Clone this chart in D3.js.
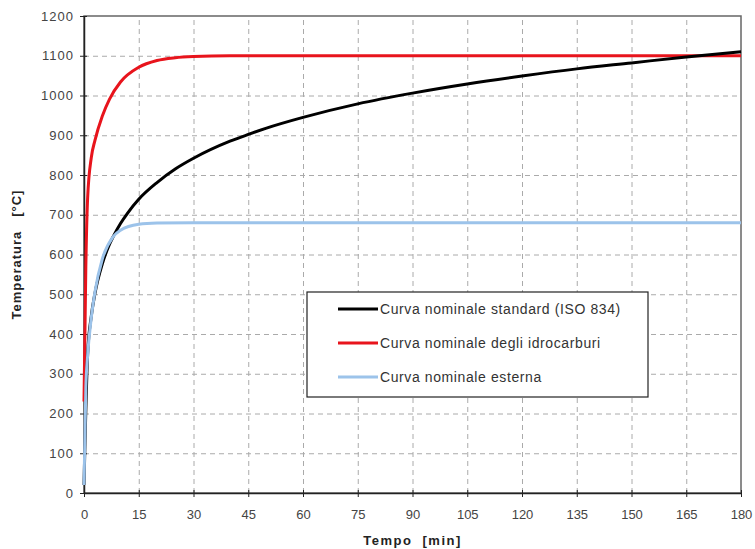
<!DOCTYPE html>
<meta charset="utf-8">
<title>Curve nominali di incendio</title>
<style>
body { margin: 0; background: white; font-family: "Liberation Sans", Arial, sans-serif; }
.tick text { font-size: 13px; fill: #444; }
.yax .tick text { letter-spacing: 1px; }
.grid line { stroke: #aaa; stroke-dasharray: 5,4; }
.grid path { display: none; }
</style>
<body>
<script src="https://d3js.org/d3.v7.min.js"></script>
<script>
// data (time in minutes, temperature in °C)
const isoTime = [0, 1, 2, 3, 5, 7, 8, 10, 12, 15, 20, 25, 30, 40, 45, 50, 60, 75, 90, 105, 120, 135, 150, 165, 180];
const isoTemp = [20, 349, 445, 502, 576, 626, 645, 678, 705, 739, 781, 815, 842, 885, 902, 918, 945, 979, 1006, 1029, 1049, 1067, 1082, 1097, 1110];

const hcTime = [0, 0.5, 1, 2, 3, 5, 7, 10, 15, 20, 25, 30, 40, 60, 90, 120, 150, 180];
const hcTemp = [230, 569, 743, 844, 887, 948, 991, 1034, 1071, 1088, 1095, 1098, 1100, 1100, 1100, 1100, 1100, 1100];

const extTime = [0, 0.5, 1, 2, 3, 5, 8, 10, 15, 20, 30, 60, 90, 120, 150, 180];
const extTemp = [20, 263, 346, 441, 506, 588, 645, 661, 676, 679, 680, 680, 680, 680, 680, 680];

const xTicks = [0, 15, 30, 45, 60, 75, 90, 105, 120, 135, 150, 165, 180];
const yTicks = [0, 100, 200, 300, 400, 500, 600, 700, 800, 900, 1000, 1100, 1200];

const seriesNames = ["Curva nominale standard (ISO 834)", "Curva nominale degli idrocarburi", "Curva nominale esterna"];
const seriesColors = ["#000000", "#e8141c", "#9cc3ea"];

const W = 755, H = 549;
const margin = {top: 16, right: 14, bottom: 56, left: 84};

const svg = d3.select("body").append("svg")
    .attr("width", W)
    .attr("height", H);

const x = d3.scaleLinear().domain([0, 180]).range([margin.left, W - margin.right]);
const y = d3.scaleLinear().domain([0, 1200]).range([H - margin.bottom, margin.top]);

// grid
svg.append("g")
    .attr("class", "grid")
    .attr("transform", "translate(0," + y(0) + ")")
    .call(d3.axisBottom(x).tickValues(xTicks.slice(1, -1)).tickSize(-(y(0) - y(1200))).tickFormat(""));
svg.append("g")
    .attr("class", "grid")
    .attr("transform", "translate(" + x(0) + ",0)")
    .call(d3.axisLeft(y).tickValues(yTicks.slice(1, -1)).tickSize(-(x(180) - x(0))).tickFormat(""));

// frame
svg.append("rect")
    .attr("x", x(0)).attr("y", y(1200))
    .attr("width", x(180) - x(0)).attr("height", y(0) - y(1200))
    .attr("fill", "none").attr("stroke", "#666").attr("stroke-width", 1.5);

// axes
const xAxis = svg.append("g")
    .attr("transform", "translate(0," + y(0) + ")")
    .call(d3.axisBottom(x).tickValues(xTicks).tickFormat(d3.format("d")).tickSizeInner(4).tickSizeOuter(0).tickPadding(13));
xAxis.selectAll(".tick line").attr("y1", -3).attr("stroke", "#222");
xAxis.select(".domain").attr("stroke", "#222").attr("stroke-width", 1.5);

const yAxis = svg.append("g")
    .attr("class", "yax")
    .attr("transform", "translate(" + x(0) + ",0)")
    .call(d3.axisLeft(y).tickValues(yTicks).tickFormat(d3.format("d")).tickSizeInner(4).tickSizeOuter(0).tickPadding(6));
yAxis.selectAll(".tick line").attr("x1", 3).attr("stroke", "#222");
yAxis.select(".domain").attr("stroke", "#222").attr("stroke-width", 1.5);

// curves
const line = d3.line()
    .x(d => x(d[0]))
    .y(d => y(d[1]))
    .curve(d3.curveMonotoneX);

const series = [
  d3.zip(isoTime, isoTemp),
  d3.zip(hcTime, hcTemp),
  d3.zip(extTime, extTemp)
];

// draw order: red, black, light blue
[1, 0, 2].forEach(i => {
  svg.append("path")
    .datum(series[i])
    .attr("fill", "none")
    .attr("stroke", seriesColors[i])
    .attr("stroke-width", 3)
    .attr("d", line);
});

// legend
const lg = svg.append("g");
lg.append("rect")
    .attr("x", 307).attr("y", 292)
    .attr("width", 341).attr("height", 105)
    .attr("fill", "white").attr("stroke", "#222").attr("stroke-width", 1.2);
seriesNames.forEach((name, i) => {
  const yy = 309 + i * 34;
  lg.append("line")
    .attr("x1", 338).attr("x2", 378)
    .attr("y1", yy).attr("y2", yy)
    .attr("stroke", seriesColors[i]).attr("stroke-width", 3);
  lg.append("text")
    .attr("x", 380).attr("y", yy + 5)
    .style("font-size", "14px")
    .style("letter-spacing", "0.6px")
    .attr("fill", "#333")
    .text(name);
});

// axis titles
svg.append("text")
    .attr("x", x(90)).attr("y", 545)
    .attr("text-anchor", "middle")
    .style("font-size", "13px").style("font-weight", "bold")
    .style("letter-spacing", "1.5px")
    .attr("fill", "#222")
    .attr("xml:space", "preserve")
    .text("Tempo  [min]");

svg.append("text")
    .attr("transform", "translate(21," + ((y(0) + y(1200)) / 2) + ") rotate(-90)")
    .attr("text-anchor", "middle")
    .style("font-size", "13px").style("font-weight", "bold")
    .style("letter-spacing", "1px")
    .attr("fill", "#222")
    .attr("xml:space", "preserve")
    .text("Temperatura   [°C]");
</script>
</body>
